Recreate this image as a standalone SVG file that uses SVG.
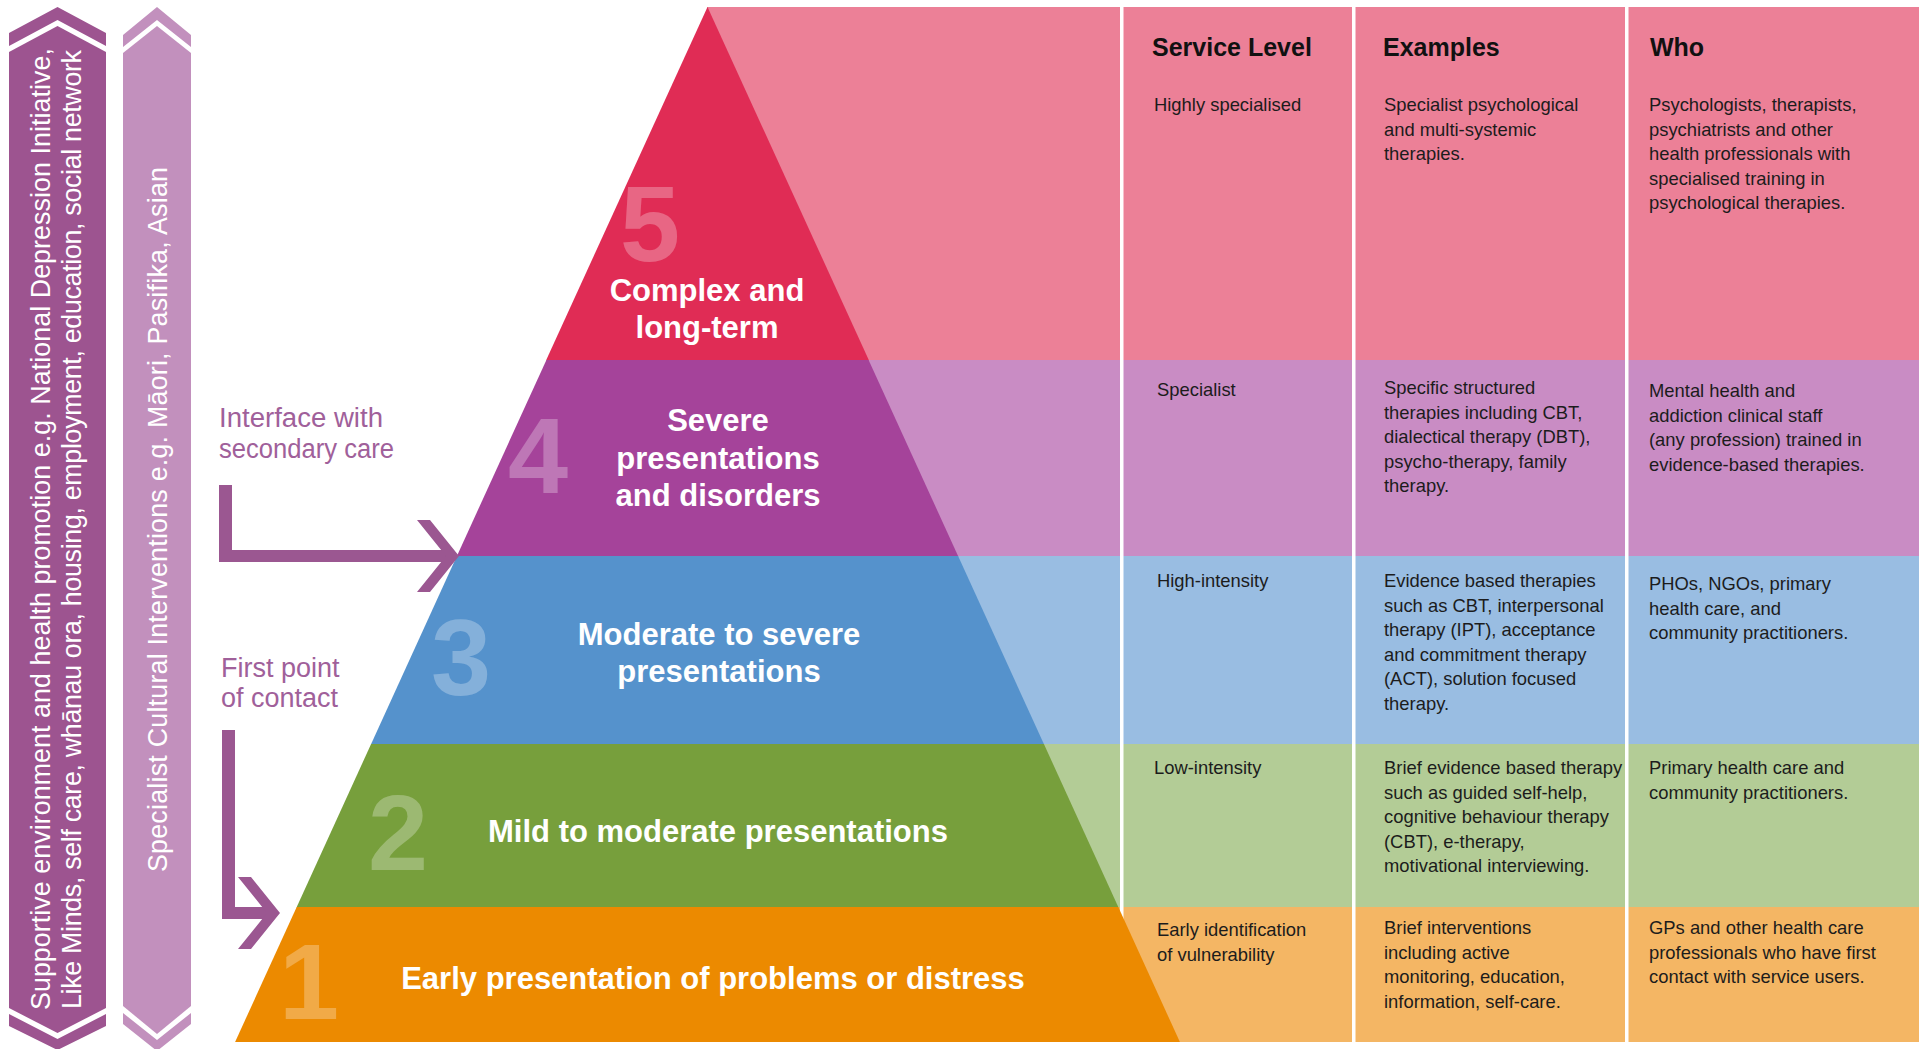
<svg xmlns="http://www.w3.org/2000/svg" width="1921" height="1049" viewBox="0 0 1921 1049">
  <style>
    .side { font-family: "Liberation Sans", Arial, sans-serif; font-size: 26.8px; fill: #ffffff; }
    .note { font-family: "Liberation Sans", Arial, sans-serif; font-size: 27px; fill: #a0609a; }
    .tier { font-family: "Liberation Sans", Arial, sans-serif; font-weight: bold; font-size: 31px; fill: #ffffff; text-anchor: middle; }
    .digit { font-family: "Liberation Sans", Arial, sans-serif; font-weight: bold; font-size: 108px; fill: #ffffff; fill-opacity: 0.28; text-anchor: middle; }
    .head { font-family: "Liberation Sans", Arial, sans-serif; font-weight: bold; font-size: 25px; fill: #111111; }
    .cell { font-family: "Liberation Sans", Arial, sans-serif; font-size: 18.4px; fill: #1c1c1c; }
    .arrow { fill: #9b5791; }
    .divider { fill: #ffffff; }
  </style>

  <rect width="1921" height="1049" fill="#ffffff"/>

  <!-- Left vertical band: supportive environment -->
  <g id="band-supportive">
    <polygon fill="#9d5490" points="9,33 57.5,7 106,33 106,46 57.5,20 9,46"/>
    <polygon fill="#9d5490" points="9,52 57.5,26 106,52 106,1008 57.5,1033 9,1008"/>
    <polygon fill="#9d5490" points="9,1014 57.5,1039 106,1014 106,1026 57.5,1050 9,1026"/>
    <g class="side">
      <text transform="translate(50,1010) rotate(-90)" textLength="962" lengthAdjust="spacing">Supportive environment and health promotion e.g. National Depression Initiative,</text>
      <text transform="translate(81,1009) rotate(-90)" textLength="959" lengthAdjust="spacing">Like Minds, self care, whānau ora, housing, employment, education, social network</text>
    </g>
  </g>

  <!-- Left vertical band: cultural interventions -->
  <g id="band-cultural">
    <polygon fill="#c290bd" points="123,35 157,7 191,35 191,47 157,20 123,47"/>
    <polygon fill="#c290bd" points="123,53 157,26 191,53 191,1006 157,1034 123,1006"/>
    <polygon fill="#c290bd" points="123,1013 157,1040 191,1013 191,1024 157,1051 123,1024"/>
    <text class="side" font-size="27.5" transform="translate(167,872) rotate(-90)" textLength="705" lengthAdjust="spacing">Specialist Cultural Interventions e.g. Māori, Pasifika, Asian</text>
  </g>

  <!-- Notes beside the arrows -->
  <g id="note-secondary">
    <text class="note" x="219" y="427" textLength="164" lengthAdjust="spacingAndGlyphs">Interface with</text>
    <text class="note" x="219" y="458" textLength="175" lengthAdjust="spacingAndGlyphs">secondary care</text>
  </g>
  <g id="note-first-contact">
    <text class="note" x="221" y="677">First point</text>
    <text class="note" x="221" y="707">of contact</text>
  </g>

  <!-- Row backgrounds (light tints) -->
  <g id="row-backgrounds">
    <rect x="707" y="7" width="1212" height="353.5" fill="#ec8097"/>
    <rect x="707" y="360" width="1212" height="196.5" fill="#c98cc4"/>
    <rect x="707" y="556" width="1212" height="188.5" fill="#99bde2"/>
    <rect x="707" y="744" width="1212" height="163.5" fill="#b3cc96"/>
    <rect x="707" y="907" width="1212" height="135" fill="#f4b664"/>
  </g>

  <!-- Column dividers -->
  <g id="dividers" class="divider">
    <rect x="1120" y="7" width="3.5" height="1035"/>
    <rect x="1352" y="7" width="3.5" height="1035"/>
    <rect x="1625" y="7" width="3.5" height="1035"/>
  </g>

  <!-- Pyramid tiers -->
  <g id="tier-5">
    <polygon fill="#e02c55" points="707.5,7 869,360.5 546,360.5"/>
    <text class="digit" x="650" y="261">5</text>
    <text class="tier" x="707" y="301">Complex and</text>
    <text class="tier" x="707" y="338">long-term</text>
  </g>
  <g id="tier-4">
    <polygon fill="#a5439a" points="546.4,360 868.6,360 958.3,556.5 456.7,556.5"/>
    <text class="digit" x="538" y="493">4</text>
    <text class="tier" x="718" y="431">Severe</text>
    <text class="tier" x="718" y="468.5">presentations</text>
    <text class="tier" x="718" y="506">and disorders</text>
  </g>
  <g id="tier-3">
    <polygon fill="#5592cc" points="456.9,556 958.1,556 1044.1,744.5 370.9,744.5"/>
    <text class="digit" x="461" y="695">3</text>
    <text class="tier" x="719" y="645">Moderate to severe</text>
    <text class="tier" x="719" y="682">presentations</text>
  </g>
  <g id="tier-2">
    <polygon fill="#779f3c" points="371.1,744 1043.9,744 1118.5,907.5 296.5,907.5"/>
    <text class="digit" x="398" y="870">2</text>
    <text class="tier" x="718" y="842">Mild to moderate presentations</text>
  </g>
  <g id="tier-1">
    <polygon fill="#ec8a00" points="296.7,907 1118.3,907 1179.9,1042 235.1,1042"/>
    <text class="digit" x="309" y="1019">1</text>
    <text class="tier" font-size="32" x="713" y="989">Early presentation of problems or distress</text>
  </g>

  <!-- Connectors -->
  <g id="connectors" class="arrow">
    <g id="arrow-secondary">
      <path d="M219,485 H232 V550 H452 V562 H219 Z"/>
      <polygon points="417,520 430,520 459,556 430,592 417,592 446,556"/>
    </g>
    <g id="arrow-first-contact">
      <path d="M222,730 H235 V907 H272 V919 H222 Z"/>
      <polygon points="238,877 251,877 280,913 251,949 238,949 267,913"/>
    </g>
  </g>

  <!-- Table -->
  <g id="table-header" class="head">
    <text x="1152" y="56">Service Level</text>
    <text x="1383" y="56">Examples</text>
    <text x="1650" y="56">Who</text>
  </g>

  <g id="row-5" class="cell">
    <text x="1154" y="111">Highly specialised</text>
    <text x="1384" y="111">Specialist psychological</text>
    <text x="1384" y="135.5">and multi-systemic</text>
    <text x="1384" y="160">therapies.</text>
    <text x="1649" y="111">Psychologists, therapists,</text>
    <text x="1649" y="135.5">psychiatrists and other</text>
    <text x="1649" y="160">health professionals with</text>
    <text x="1649" y="184.5">specialised training in</text>
    <text x="1649" y="209">psychological therapies.</text>
  </g>

  <g id="row-4" class="cell">
    <text x="1157" y="396">Specialist</text>
    <text x="1384" y="394">Specific structured</text>
    <text x="1384" y="418.5">therapies including CBT,</text>
    <text x="1384" y="443">dialectical therapy (DBT),</text>
    <text x="1384" y="467.5">psycho-therapy, family</text>
    <text x="1384" y="492">therapy.</text>
    <text x="1649" y="397">Mental health and</text>
    <text x="1649" y="421.5">addiction clinical staff</text>
    <text x="1649" y="446">(any profession) trained in</text>
    <text x="1649" y="470.5">evidence-based therapies.</text>
  </g>

  <g id="row-3" class="cell">
    <text x="1157" y="587">High-intensity</text>
    <text x="1384" y="587">Evidence based therapies</text>
    <text x="1384" y="611.5">such as CBT, interpersonal</text>
    <text x="1384" y="636">therapy (IPT), acceptance</text>
    <text x="1384" y="660.5">and commitment therapy</text>
    <text x="1384" y="685">(ACT), solution focused</text>
    <text x="1384" y="709.5">therapy.</text>
    <text x="1649" y="590">PHOs, NGOs, primary</text>
    <text x="1649" y="614.5">health care, and</text>
    <text x="1649" y="639">community practitioners.</text>
  </g>

  <g id="row-2" class="cell">
    <text x="1154" y="774">Low-intensity</text>
    <text x="1384" y="774">Brief evidence based therapy</text>
    <text x="1384" y="798.5">such as guided self-help,</text>
    <text x="1384" y="823">cognitive behaviour therapy</text>
    <text x="1384" y="847.5">(CBT), e-therapy,</text>
    <text x="1384" y="872">motivational interviewing.</text>
    <text x="1649" y="774">Primary health care and</text>
    <text x="1649" y="798.5">community practitioners.</text>
  </g>

  <g id="row-1" class="cell">
    <text x="1157" y="936">Early identification</text>
    <text x="1157" y="960.5">of vulnerability</text>
    <text x="1384" y="934">Brief interventions</text>
    <text x="1384" y="958.5">including active</text>
    <text x="1384" y="983">monitoring, education,</text>
    <text x="1384" y="1007.5">information, self-care.</text>
    <text x="1649" y="934">GPs and other health care</text>
    <text x="1649" y="958.5">professionals who have first</text>
    <text x="1649" y="983">contact with service users.</text>
  </g>
</svg>
